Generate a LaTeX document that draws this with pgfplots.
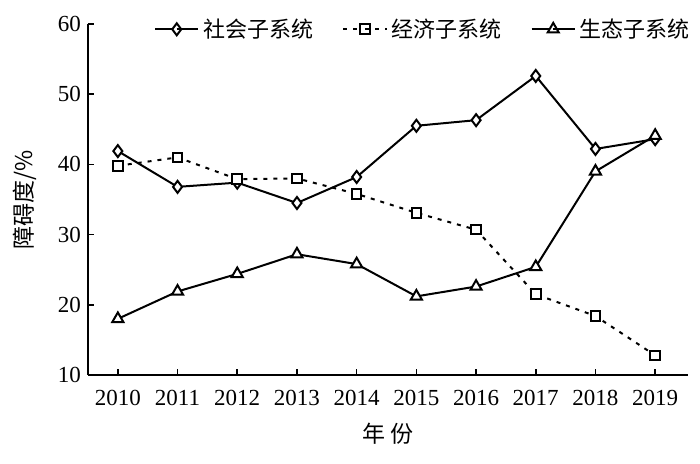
\documentclass[border=0pt]{standalone}
\usepackage{fontspec}
\setmainfont{Liberation Serif}
\newfontfamily\cjk{Noto Sans CJK SC}
\usepackage{pgfplots}
\pgfplotsset{compat=1.18}

\pgfplotsset{
  mylegend/.style={
    legend image code/.code={
      \draw[##1] (0cm,0cm) -- (0.38cm,0cm);
      \draw[##1] plot coordinates {(0.38cm,0cm)};
      \draw[##1] (0.38cm,0cm) -- (0.76cm,0cm);
    }
  }
}

\begin{document}
\begin{tikzpicture}
\begin{axis}[
    at={(0,0)}, anchor=south west,
    scale only axis,
    width=300pt, height=175.5pt,
    xmin=2009.5, xmax=2019.55,
    ymin=10, ymax=60,
    axis lines=left,
    axis line style={-, line width=1pt},
    tick align=inside,
    major tick length=3pt,
    tick style={line width=0.8pt, black},
    xtick={2010,...,2019},
    ytick={10,20,...,60},
    x tick label style={/pgf/number format/1000 sep={}, yshift=-4pt},
    /pgf/number format/assume math mode=true,
    tick label style={font=\fontsize{11.5}{12}\selectfont},
    xlabel={\cjk 年\ 份},
    ylabel={\cjk 障碍度/\%},
    label style={font=\fontsize{11.5}{12}\selectfont},
    xlabel style={yshift=-2pt},
    ylabel style={yshift=4pt},
    mylegend,
    legend columns=3,
    legend style={draw=none, fill=none, at={(0.56,0.985)}, anchor=center,
        font=\fontsize{11}{12}\selectfont\cjk,
        /tikz/every even column/.append style={column sep=12.5pt}},
    every axis plot/.append style={line width=1pt, black},
]
\addplot[mark=diamond*, mark size=3pt, mark options={fill=white, solid}]
coordinates {(2010,41.9) (2011,36.8) (2012,37.4) (2013,34.5) (2014,38.2)
             (2015,45.5) (2016,46.3) (2017,52.6) (2018,42.2) (2019,43.6)};
\addlegendentry{社会子系统}
\addplot[dash pattern=on 2pt off 3pt, mark=square*, mark size=2.4pt, mark options={fill=white, solid}]
coordinates {(2010,39.8) (2011,41.0) (2012,37.9) (2013,38.0) (2014,35.8)
             (2015,33.1) (2016,30.7) (2017,21.5) (2018,18.4) (2019,12.8)};
\addlegendentry{经济子系统}
\addplot[mark=triangle*, mark size=3.2pt, mark options={fill=white, solid}]
coordinates {(2010,18.0) (2011,21.9) (2012,24.4) (2013,27.2) (2014,25.8)
             (2015,21.2) (2016,22.6) (2017,25.4) (2018,39.0) (2019,44.1)};
\addlegendentry{生态子系统}
\end{axis}
\pgfresetboundingbox
\path (-44pt,-44.5pt) rectangle (306pt,187.5pt);
\end{tikzpicture}
\end{document}
